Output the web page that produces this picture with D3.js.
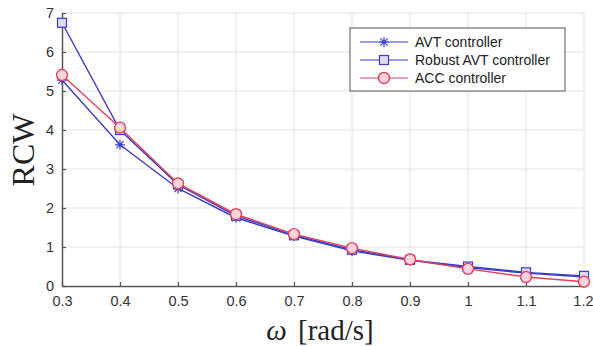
<!DOCTYPE html>
<html>
<head>
<meta charset="utf-8">
<script src="https://cdn.jsdelivr.net/npm/d3@7/dist/d3.min.js"></script>
<style>
  body { margin: 0; background: #fff; }
  svg { display: block; }
</style>
</head>
<body>
<div id="chart"></div>
<script>
// values
var omega = [0.3, 0.4, 0.5, 0.6, 0.7, 0.8, 0.9, 1.0, 1.1, 1.2];
var avt = [5.28, 3.62, 2.5, 1.75, 1.28, 0.9, 0.66, 0.47, 0.33, 0.23];
var robustAvt = [6.75, 4.0, 2.6, 1.8, 1.3, 0.93, 0.67, 0.5, 0.35, 0.26];
var acc = [5.41, 4.06, 2.63, 1.84, 1.33, 0.97, 0.68, 0.44, 0.23, 0.11];
var xTicks = [0.3, 0.4, 0.5, 0.6, 0.7, 0.8, 0.9, 1, 1.1, 1.2];
var yTicks = [0, 1, 2, 3, 4, 5, 6, 7];
var seriesNames = ['AVT controller', 'Robust AVT controller', 'ACC controller'];

var W = 593, H = 347;
var m = { top: 13, right: 9, bottom: 61, left: 62 };
var w = W - m.left - m.right, h = H - m.top - m.bottom;

var blue = '#3c3cc8', red = '#e2405c';

var series = [
  { name: seriesNames[0], values: avt, color: blue, marker: 'star' },
  { name: seriesNames[1], values: robustAvt, color: blue, marker: 'square', fill: '#dcdcf6' },
  { name: seriesNames[2], values: acc, color: red, marker: 'circle', fill: '#fbd3da' }
];

var svg = d3.select('#chart').append('svg')
  .attr('width', W).attr('height', H);
var g = svg.append('g').attr('transform', 'translate(' + m.left + ',' + m.top + ')');

var x = d3.scaleLinear().domain([0.3, 1.2]).range([0, w]);
var y = d3.scaleLinear().domain([0, 7]).range([h, 0]);

// grid
g.append('g').selectAll('line').data(xTicks.slice(1)).enter().append('line')
  .attr('x1', x).attr('x2', x).attr('y1', 0).attr('y2', h)
  .attr('stroke', '#e2e2e2').attr('stroke-width', 1);
g.append('g').selectAll('line').data(yTicks.slice(1)).enter().append('line')
  .attr('y1', y).attr('y2', y).attr('x1', 0).attr('x2', w)
  .attr('stroke', '#e2e2e2').attr('stroke-width', 1);

// axes
var xAxis = g.append('g').attr('transform', 'translate(0,' + h + ')')
  .call(d3.axisBottom(x).tickValues(xTicks).tickSizeInner(-4).tickSizeOuter(0)
    .tickPadding(10).tickFormat(d3.format('~g')));
var yAxis = g.append('g')
  .call(d3.axisLeft(y).tickValues(yTicks).tickSizeInner(-4).tickSizeOuter(0)
    .tickPadding(8).tickFormat(d3.format('d')));
[xAxis, yAxis].forEach(function(a) {
  a.select('.domain').attr('stroke', '#555').attr('stroke-width', 1.5);
  a.selectAll('.tick line').attr('stroke', '#555').attr('stroke-width', 1.2);
  a.selectAll('.tick text').attr('fill', '#333')
    .style('font-family', 'Liberation Sans, Arial, sans-serif').style('font-size', '14.5px');
});
// last x label sits right at the window edge
xAxis.selectAll('.tick text').filter(function(d) { return d === 1.2; })
  .attr('text-anchor', 'end').attr('dx', '0.62em');

var line = d3.line()
  .x(function(d, i) { return x(omega[i]); })
  .y(function(d) { return y(d); });

function drawMarker(sel, s) {
  if (s.marker === 'star') {
    sel.append('path')
      .attr('d', 'M-5,0L5,0M0,-5L0,5M-3.6,-3.6L3.6,3.6M-3.6,3.6L3.6,-3.6')
      .attr('stroke', s.color).attr('stroke-width', 1.2).attr('fill', 'none');
  } else if (s.marker === 'square') {
    sel.append('rect').attr('x', -4.5).attr('y', -4.5).attr('width', 9).attr('height', 9)
      .attr('fill', s.fill).attr('stroke', s.color).attr('stroke-width', 1.2);
  } else {
    sel.append('circle').attr('r', 5.5)
      .attr('fill', s.fill).attr('stroke', s.color).attr('stroke-width', 1.4);
  }
}

series.forEach(function(s) {
  g.append('path').datum(s.values)
    .attr('d', line).attr('fill', 'none')
    .attr('stroke', s.color).attr('stroke-width', 1.4);
  g.append('g').selectAll('g').data(s.values).enter().append('g')
    .attr('transform', function(d, i) { return 'translate(' + x(omega[i]) + ',' + y(d) + ')'; })
    .each(function() { drawMarker(d3.select(this), s); });
});

// legend
var lg = svg.append('g').attr('transform', 'translate(350,28)');
lg.append('rect').attr('width', 215).attr('height', 63)
  .attr('fill', '#fff').attr('stroke', '#555').attr('stroke-width', 1);
series.forEach(function(s, i) {
  var row = lg.append('g').attr('transform', 'translate(0,' + (14 + i * 18) + ')');
  row.append('line').attr('x1', 10).attr('x2', 58).attr('y1', 0).attr('y2', 0)
    .attr('stroke', s.color).attr('stroke-width', 1.2);
  var mk = row.append('g').attr('transform', 'translate(34,0)');
  drawMarker(mk, s);
  row.append('text').attr('x', 65).attr('y', 5).text(s.name)
    .attr('fill', '#222')
    .style('font-family', 'Liberation Sans, Arial, sans-serif').style('font-size', '14px');
});

// axis titles
svg.append('text')
  .attr('transform', 'translate(34,' + 150 + ') rotate(-90)')
  .attr('text-anchor', 'middle')
  .style('font-family', 'Liberation Serif, Times New Roman, serif').style('font-size', '32px')
  .attr('fill', '#222').text('RCW');

var xt = svg.append('text')
  .attr('x', 320).attr('y', 340)
  .attr('text-anchor', 'middle')
  .style('font-family', 'Liberation Serif, Times New Roman, serif').style('font-size', '29px')
  .attr('fill', '#222');
xt.append('tspan').style('font-style', 'italic').text('ω');
xt.append('tspan').attr('dx', 4).text(' [rad/s]');
</script>
</body>
</html>
